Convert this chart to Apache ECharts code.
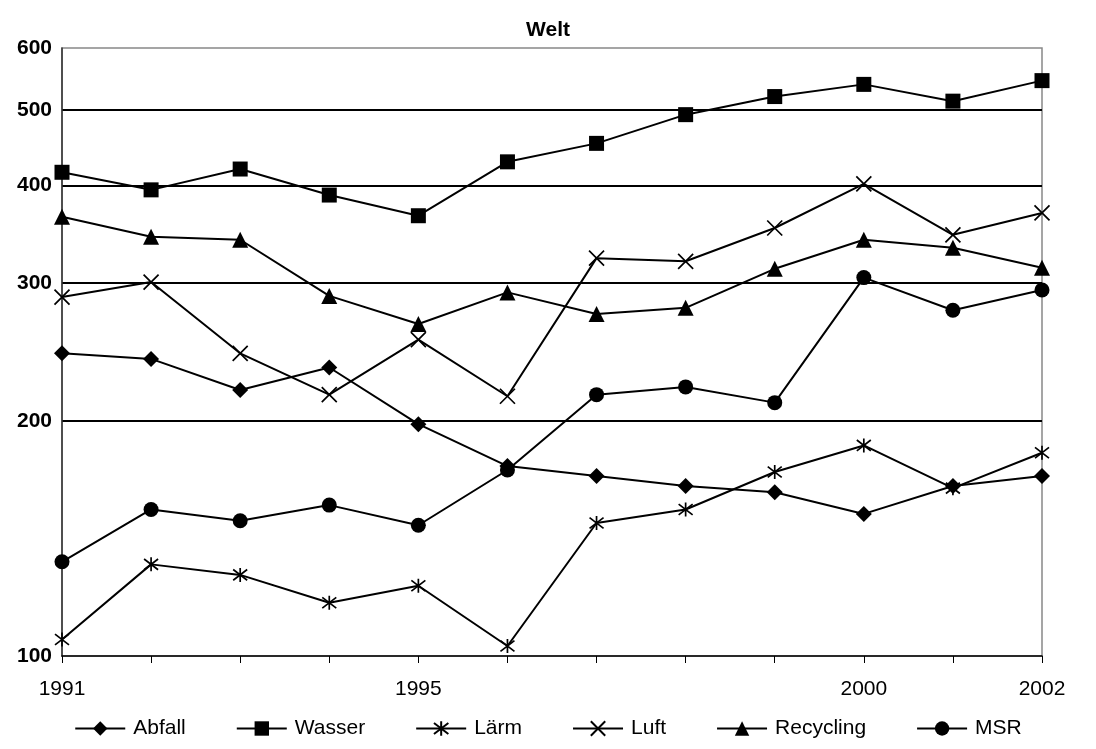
<!DOCTYPE html>
<html>
<head>
<meta charset="utf-8">
<script src="https://cdn.jsdelivr.net/npm/echarts@6/dist/echarts.min.js"></script>
<style>html,body{margin:0;padding:0;background:#fff}#c{width:1096px;height:749px}</style>
</head>
<body>
<div id="c"></div>
<script>
const years = ['1991','1992','1993','1994','1995','1996','1997','1998','1999','2000','2001','2002'];
const shownYears = ['1991','1995','2000','2002'];
const yTicks = [100,200,300,400,500,600];
const abfall    = [244,240,219,234,198,175,170,165,162,152,165,170];
const wasser    = [416,395,420,389,366,429,453,493,520,539,513,545];
const laerm     = [105,131,127,117,123,103,148,154,172,186,164,182];
const luft      = [288,301,244,216,254,215,323,320,353,402,346,369];
const recycling = [365,344,341,289,266,292,274,279,313,341,333,314];
const msr       = [132,154,149,156,147,173,216,221,211,305,277,294];

const FONT = 'Liberation Sans, Arial, sans-serif';
const XPATH = 'path://M0,0L10,10M10,0L0,10';
const STARPATH = 'path://M0,0L10,10M10,0L0,10M5,-1.5L5,11.5';

function mk(name, data, symbol, size, stroked) {
  return {
    name, type: 'line', data, symbol, symbolSize: size,
    lineStyle: {color: '#000', width: 2},
    itemStyle: stroked ? {color: 'none', borderColor: '#000', borderWidth: 1.7} : {color: '#000'},
    emphasis: {disabled: true},
    animation: false
  };
}

const chart = echarts.init(document.getElementById('c'));
chart.setOption({
  animation: false,
  backgroundColor: '#fff',
  title: {text: 'Welt', left: 'center', top: 15, textStyle: {fontFamily: FONT, fontWeight: 'bold', fontSize: 21, color: '#000'}},
  grid: {left: 62, right: 54, top: 48, bottom: 93, show: true, borderColor: '#888', borderWidth: 1.5, containLabel: false},
  legend: {
    bottom: 5, left: 'center', itemWidth: 50, itemHeight: 18, itemGap: 50,
    textStyle: {fontFamily: FONT, fontSize: 21, color: '#000', padding: [0, 0, 0, 3]},
    data: ['Abfall','Wasser','Lärm','Luft','Recycling','MSR']
  },
  xAxis: {
    type: 'category', data: years, boundaryGap: false,
    axisLine: {lineStyle: {color: '#000', width: 1.5}},
    axisTick: {interval: 0, length: 7, lineStyle: {color: '#000'}},
    axisLabel: {
      interval: (i, v) => shownYears.indexOf(v) >= 0,
      fontFamily: FONT, fontSize: 21, color: '#000', margin: 23
    },
    splitLine: {show: false}
  },
  yAxis: {
    type: 'log', logBase: 10, min: 100, max: 600,
    axisLine: {show: true, lineStyle: {color: '#333', width: 1.5}},
    axisTick: {show: false, customValues: yTicks},
    axisLabel: {customValues: yTicks, fontFamily: FONT, fontWeight: 'bold', fontSize: 21, color: '#000', margin: 10},
    splitLine: {show: true, showMinLine: false, showMaxLine: false, lineStyle: {color: '#000', width: 2}}
  },
  series: [
    mk('Abfall', abfall, 'diamond', 16, false),
    mk('Wasser', wasser, 'rect', 15, false),
    mk('Lärm', laerm, STARPATH, 14, true),
    mk('Luft', luft, XPATH, 15, true),
    mk('Recycling', recycling, 'triangle', 16, false),
    mk('MSR', msr, 'circle', 15, false)
  ]
});
</script>
</body>
</html>
